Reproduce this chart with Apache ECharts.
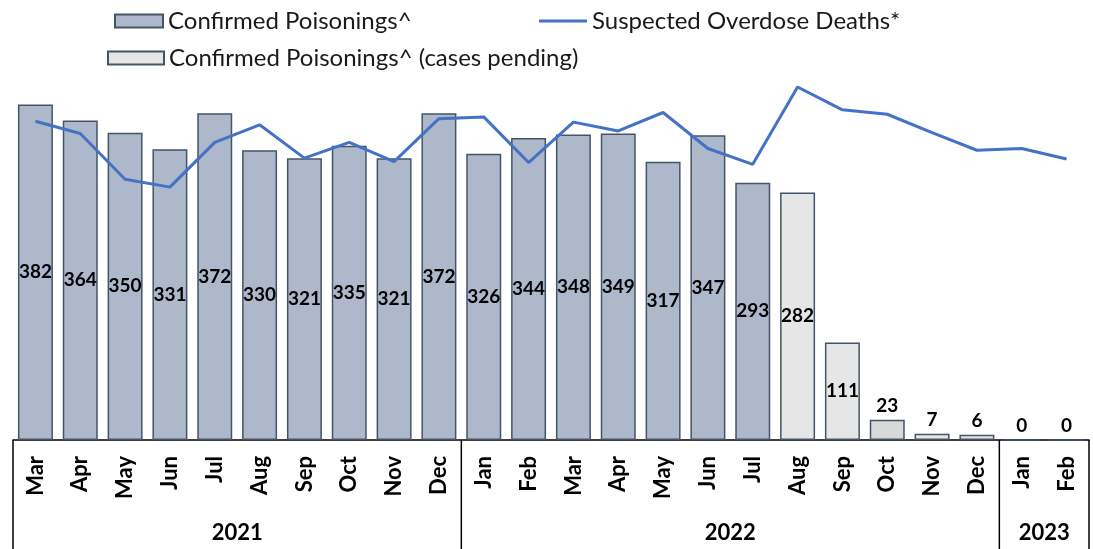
<!DOCTYPE html>
<html>
<head>
<meta charset="utf-8">
<script src="https://cdn.jsdelivr.net/npm/echarts@6/dist/echarts.min.js"></script>
<style>html,body{margin:0;padding:0;background:#fff;}#c{width:1093px;height:549px;}</style>
</head>
<body>
<div id="c"></div>
<script>
const months = ['Mar','Apr','May','Jun','Jul','Aug','Sep','Oct','Nov','Dec','Jan','Feb','Mar','Apr','May','Jun','Jul','Aug','Sep','Oct','Nov','Dec','Jan','Feb'];
const years = [
  {label:'2021', start:0, end:10},
  {label:'2022', start:10, end:22},
  {label:'2023', start:22, end:24}
];
const confirmed = [382,364,350,331,372,330,321,335,321,372,326,344,348,349,317,347,293,null,null,null,null,null,null,null];
const pending   = [null,null,null,null,null,null,null,null,null,null,null,null,null,null,null,null,null,282,111,23,7,6,0,0];
const suspected = [363,349,297,288,339,359,321,339,317,366,368,316,362,352,373,332,314,402,376,371,350,330,332,320];

const FONT = 'Lato';
const chart = echarts.init(document.getElementById('c'));

const pendingData = pending.map((v, i) => {
  if (v === null) return '-';
  const small = v < 50;
  return {
    value: v,
    itemStyle: { color: i === 19 ? '#D9D9D9' : '#E7E6E6' },
    label: { position: small ? 'top' : 'inside', distance: small ? 4 : 5 }
  };
});

const labelStyle = { show: true, fontFamily: FONT, fontWeight: 'bold', fontSize: 19, color: '#000' };
const legendText = { fontFamily: FONT, fontSize: 24, color: '#1a1a1a' };

chart.setOption({
  animation: false,
  textStyle: { fontFamily: FONT },
  grid: { left: 13, right: 4, top: 80, bottom: 109 },
  legend: [
    { data: [{ name: 'Confirmed Poisonings^', icon: 'rect' }], left: 109, top: 4, itemWidth: 48, itemHeight: 13, itemGap: 5,
      textStyle: legendText },
    { data: [{ name: 'Suspected Overdose Deaths*', icon: 'rect' }], left: 534, top: 4, itemWidth: 48, itemHeight: 3, itemGap: 5,
      itemStyle: { color: '#4472C4', borderWidth: 0 },
      textStyle: legendText },
    { data: [{ name: 'Confirmed Poisonings^ (cases pending)', icon: 'rect' }], left: 102, top: 41, itemWidth: 56, itemHeight: 13, itemGap: 5,
      textStyle: legendText }
  ],
  xAxis: {
    type: 'category',
    data: months,
    axisLine: { show: true, lineStyle: { color: '#000', width: 1.5 } },
    axisTick: { show: false },
    axisLabel: { rotate: 90, margin: 16, fontFamily: FONT, fontWeight: 'bold', fontSize: 22, color: '#000', interval: 0 }
  },
  yAxis: {
    type: 'value', min: 0, max: 410, show: false, splitLine: { show: false }
  },
  series: [
    {
      name: 'Confirmed Poisonings^', type: 'bar', data: confirmed.map(v => v === null ? '-' : v),
      barCategoryGap: '22%', barGap: '-100%',
      itemStyle: { color: '#ADB9CA', borderColor: '#44546A', borderWidth: 1.5 },
      label: Object.assign({ position: 'inside' }, labelStyle)
    },
    {
      name: 'Confirmed Poisonings^ (cases pending)', type: 'bar', data: pendingData,
      barCategoryGap: '22%', barGap: '-100%',
      itemStyle: { color: '#E7E6E6', borderColor: '#44546A', borderWidth: 1.5 },
      label: Object.assign({ position: 'inside' }, labelStyle)
    },
    {
      name: 'Suspected Overdose Deaths*', type: 'line', data: suspected, symbol: 'none', z: 5,
      lineStyle: { color: '#4472C4', width: 3 }, itemStyle: { color: '#4472C4' }
    }
  ]
});

function drawTable() {
  const c0 = chart.convertToPixel({ xAxisIndex: 0 }, 0);
  const c1 = chart.convertToPixel({ xAxisIndex: 0 }, 1);
  const bw = c1 - c0;
  const yAxisPx = chart.convertToPixel({ yAxisIndex: 0 }, 0);
  const bottom = 549;
  const bx = i => c0 - bw / 2 + i * bw;
  const elements = [];
  const bounds = new Set();
  years.forEach(y => { bounds.add(y.start); bounds.add(y.end); });
  bounds.forEach(i => {
    elements.push({ type: 'line', shape: { x1: bx(i), y1: yAxisPx, x2: bx(i), y2: bottom },
      style: { stroke: '#000', lineWidth: 1.5 }, silent: true });
  });
  years.forEach(y => {
    elements.push({ type: 'text', x: (bx(y.start) + bx(y.end)) / 2, y: 533,
      style: { text: y.label, fontFamily: FONT, fontWeight: 'bold', fontSize: 22, fill: '#000',
        align: 'center', verticalAlign: 'middle' }, silent: true });
  });
  chart.setOption({ graphic: elements });
}
drawTable();
</script>
</body>
</html>
